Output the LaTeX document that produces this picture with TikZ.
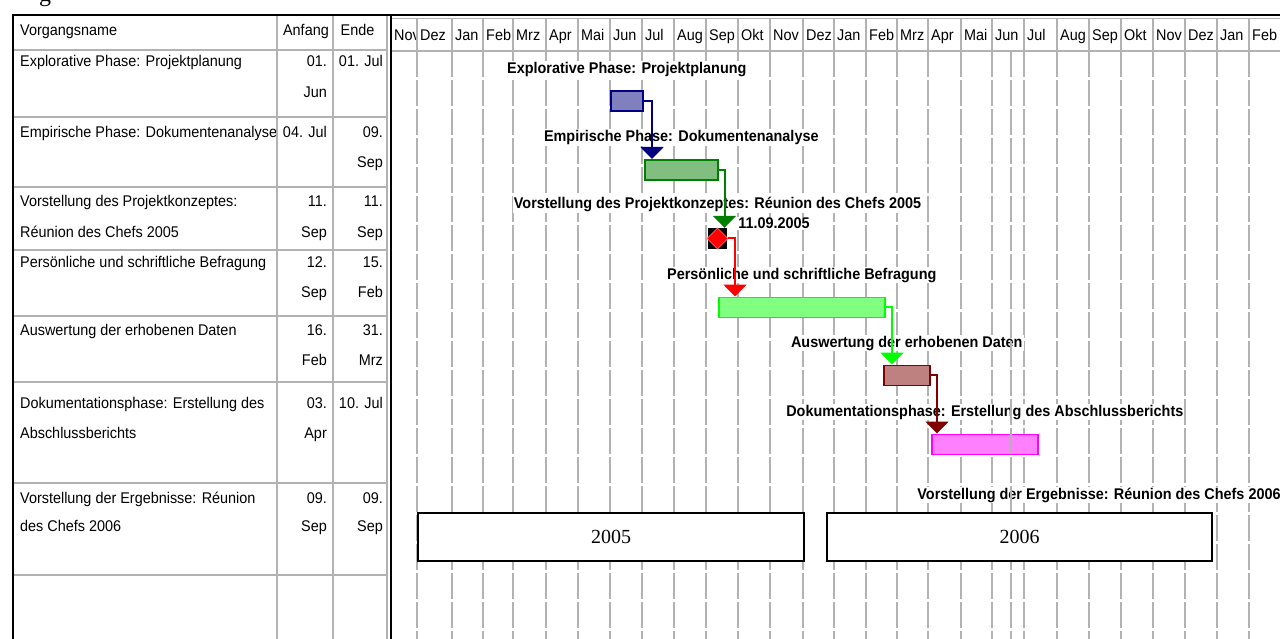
\documentclass[tikz,border=0pt]{standalone}
\usepackage{fontspec}
\setmainfont{Liberation Serif}
\setsansfont{Liberation Sans}[FakeStretch=0.93]
\usetikzlibrary{positioning, shapes.geometric, arrows.meta}

\definecolor{barnavy}{RGB}{0,0,128}
\definecolor{bargreen}{RGB}{0,128,0}
\definecolor{barlime}{RGB}{0,255,0}
\definecolor{barmaroon}{RGB}{128,0,0}
\definecolor{barpink}{RGB}{255,0,255}

\begin{document}
\begin{tikzpicture}[
        x=1pt, y=-1pt,
        every node/.style={inner sep=0pt, font=\sffamily\fontsize{15.5}{18}\selectfont},
        cell/.style={anchor=base west},
        num/.style={anchor=base east},
        tabline/.style={draw=gray!60, line width=1.6pt},
        outer/.style={draw=black, line width=2.2pt},
        gridline/.style={draw=gray!60, line width=1.4pt, dash pattern=on 26pt off 3pt},
        bar/.style={draw=#1, fill=#1!50!white, line width=1.6pt, minimum height=20pt, anchor=north west},
        blabel/.style={fill=white, inner sep=1pt, font=\sffamily\bfseries\fontsize{15.5}{18}\selectfont},
        link/.style={draw=#1, line width=2pt, -{Triangle[width=23pt, length=12pt]}},
        yearbox/.style={draw, fill=white, line width=1.4pt, minimum width=386pt, minimum height=48pt, font=\rmfamily\fontsize{20}{24}\selectfont}
    ]

    \path[use as bounding box, fill=white] (0,0) rectangle (1280,639);
    \clip (0,0) rectangle (1280,639);

    % caption above (cut off)
    \node[anchor=base, font=\rmfamily\fontsize{24}{28}\selectfont] (capg) at (45,2) {g};

    % Month header and grid
    \foreach \a/\b/\m [count=\i] in {391/417/Nov, 417/452/Dez, 452/483/Jan, 483/513/Feb,
            513/546/Mrz, 546/578/Apr, 578/610/Mai, 610/642/Jun, 642/674/Jul, 674/706/Aug,
            706/738/Sep, 738/770/Okt, 770/803/Nov, 803/834/Dez, 834/866/Jan, 866/897/Feb,
            897/928/Mrz, 928/961/Apr, 961/992/Mai, 992/1024/Jun, 1024/1057/Jul, 1057/1089/Aug,
            1089/1121/Sep, 1121/1153/Okt, 1153/1185/Nov, 1185/1217/Dez, 1217/1249/Jan, 1249/1284/Feb} {
        \begin{scope}
            \clip (\a,18) rectangle (\b,51);
            \node[cell] (mon\i) at (\a+3,41) {\m};
        \end{scope}
        \draw[tabline] (\b,18) -- (\b,51);
        \draw[gridline] (\b,51) -- (\b,639);
    }
    \draw[tabline] (391,18.5) -- (1280,18.5);
    \draw[tabline] (391,51) -- (1280,51);

    % Table lines
    \foreach \y in {50,117,187,250,316,382,483,575}
        \draw[tabline] (13,\y) -- (387,\y);
    \foreach \x in {277,333,387}
        \draw[tabline] (\x,15) -- (\x,639);
    \draw[outer] (13,639) -- (13,15) -- (1280,15);
    \draw[black, line width=1.4pt] (391,15) -- (391,639);

    % Table header
    \node[cell] (n0) at (20,36) {Vorgangsname};
    \node[num] (a0) at (329,36) {Anfang};
    \node[anchor=base] (e0) at (357.5,36) {Ende};

    % Row 1
    \node[cell] (n1) at (20,67) {Explorative Phase: Projektplanung};
    \node[num] (a1) at (327,67) {01.};
    \node[num] (a1b) at (327,98) {Jun};
    \node[num] (e1) at (383,67) {01. Jul};

    % Row 2
    \begin{scope}
        \clip (15,117) rectangle (275,187);
        \node[cell] (n2) at (20,138) {Empirische Phase: Dokumentenanalyse};
    \end{scope}
    \node[num] (a2) at (327,138) {04. Jul};
    \node[num] (e2) at (383,138) {09.};
    \node[num] (e2b) at (383,168) {Sep};

    % Row 3
    \node[cell] (n3) at (20,207) {Vorstellung des Projektkonzeptes:};
    \node[cell] (n3b) at (20,237) {Réunion des Chefs 2005};
    \node[num] (a3) at (327,207) {11.};
    \node[num] (a3b) at (327,237) {Sep};
    \node[num] (e3) at (383,207) {11.};
    \node[num] (e3b) at (383,237) {Sep};

    % Row 4
    \node[cell] (n4) at (20,268) {Persönliche und schriftliche Befragung};
    \node[num] (a4) at (327,268) {12.};
    \node[num] (a4b) at (327,298) {Sep};
    \node[num] (e4) at (383,268) {15.};
    \node[num] (e4b) at (383,298) {Feb};

    % Row 5
    \node[cell] (n5) at (20,335) {Auswertung der erhobenen Daten};
    \node[num] (a5) at (327,335) {16.};
    \node[num] (a5b) at (327,365) {Feb};
    \node[num] (e5) at (383,335) {31.};
    \node[num] (e5b) at (383,365) {Mrz};

    % Row 6
    \node[cell] (n6) at (20,408) {Dokumentationsphase: Erstellung des};
    \node[cell] (n6b) at (20,438) {Abschlussberichts};
    \node[num] (a6) at (327,408) {03.};
    \node[num] (a6b) at (327,438) {Apr};
    \node[num] (e6) at (383,408) {10. Jul};

    % Row 7
    \node[cell] (n7) at (20,503) {Vorstellung der Ergebnisse: Réunion};
    \node[cell] (n7b) at (20,531) {des Chefs 2006};
    \node[num] (a7) at (327,503) {09.};
    \node[num] (a7b) at (327,531) {Sep};
    \node[num] (e7) at (383,503) {09.};
    \node[num] (e7b) at (383,531) {Sep};

    % Bars
    \node[bar=barnavy, minimum width=32pt] (bar1) at (610,90.5) {};
    \node[bar=bargreen, minimum width=73pt] (bar2) at (644,159) {};
    \node[fill=black, minimum width=19pt, minimum height=21pt] (ms) at (717.5,238.5) {};
    \node[diamond, fill=red, draw=red!60!white, line width=0.8pt, minimum width=21pt, minimum height=21pt] (dia) at (ms.center) {};
    \node[bar=barlime, minimum width=166pt] (bar4) at (718,296.5) {};
    \node[bar=barmaroon, minimum width=46pt] (bar5) at (883,364.5) {};
    \node[bar=barpink, minimum width=106pt] (bar6) at (931,433.5) {};

    % Bar labels
    \node[blabel, above=13pt of bar1] (lab1) {Explorative Phase: Projektplanung};
    \node[blabel, above=13pt of bar2] (lab2) {Empirische Phase: Dokumentenanalyse};
    \node[blabel, above=15pt of ms] (lab3) {Vorstellung des Projektkonzeptes: Réunion des Chefs 2005};
    \node[blabel, anchor=west] (msdate) at ([xshift=10pt, yshift=15pt]ms.east) {11.09.2005};
    \node[blabel, above=13pt of bar4] (lab4) {Persönliche und schriftliche Befragung};
    \node[blabel, above=13pt of bar5] (lab5) {Auswertung der erhobenen Daten};
    \node[blabel, above=13pt of bar6] (lab6) {Dokumentationsphase: Erstellung des Abschlussberichts};
    \node[blabel] (lab7) at (1099,495) {Vorstellung der Ergebnisse: Réunion des Chefs 2006};

    % status line
    \draw[gridline] (1011,51) -- (1011,639);

    % Links
    \draw[link=barnavy] (bar1.east) -| ([xshift=8pt]bar2.north west);
    \draw[link=bargreen] (bar2.east) -| ([xshift=7pt]ms.north);
    \draw[link=red] (dia.east) -| ([xshift=17pt]bar4.north west);
    \draw[link=barlime] (bar4.east) -| ([xshift=9pt]bar5.north west);
    \draw[link=barmaroon] (bar5.east) -| ([xshift=6pt]bar6.north west);

    % Years
    \node[yearbox] (y2005) at (611,537) {2005};
    \node[yearbox, minimum width=385pt] (y2006) at (1019.5,537) {2006};

\end{tikzpicture}
\end{document}
